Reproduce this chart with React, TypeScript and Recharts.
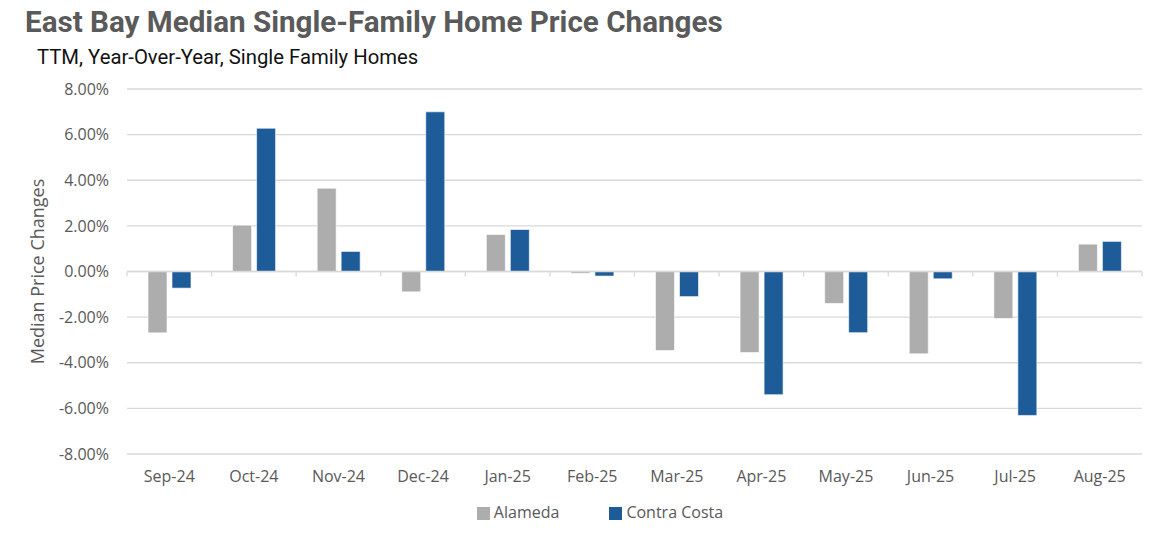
import React from "react";
import { BarChart, Bar, XAxis, YAxis, CartesianGrid, Legend, ReferenceLine } from "recharts";

const months = ["Sep-24", "Oct-24", "Nov-24", "Dec-24", "Jan-25", "Feb-25", "Mar-25", "Apr-25", "May-25", "Jun-25", "Jul-25", "Aug-25"];
const alameda = [-2.69, 2.03, 3.65, -0.89, 1.62, -0.08, -3.46, -3.55, -1.4, -3.61, -2.06, 1.2];
const contraCosta = [-0.73, 6.28, 0.88, 7.0, 1.84, -0.2, -1.1, -5.4, -2.68, -0.32, -6.31, 1.32];
const yTicks = [-8, -6, -4, -2, 0, 2, 4, 6, 8];
const boundaries = [0, 1, 2, 3, 4, 5, 6, 7, 8, 9, 10, 11, 12];

const data = months.map((m, i) => ({ month: m, Alameda: alameda[i], "Contra Costa": contraCosta[i], pos: i + 0.5 }));

const GRAY = "#ADADAD";
const BLUE = "#1E5C99";
const TEXT = "#595959";
const FONT = "'Open Sans', 'Liberation Sans', sans-serif";

export default function App() {
  return (
    <div style={{ position: "absolute", left: 0, top: 0, width: 1164, height: 540, background: "#fff", overflow: "hidden" }}>
      <div style={{ position: "absolute", left: 25, top: 5, fontFamily: "Roboto, sans-serif", fontWeight: 700, fontSize: 29.6, color: "#5a5a5a", whiteSpace: "nowrap" }}>
        East Bay Median Single-Family Home Price Changes
      </div>
      <div style={{ position: "absolute", left: 37, top: 45, fontFamily: "Roboto, sans-serif", fontSize: 20.3, color: "#111", whiteSpace: "nowrap" }}>
        TTM, Year-Over-Year, Single Family Homes
      </div>
      <div style={{ position: "absolute", left: 0, top: 0 }}>
        <BarChart
          width={1164}
          height={540}
          data={data}
          margin={{ top: 89, right: 22, bottom: 34, left: 0 }}
          barCategoryGap="24.6%"
          barGap={5}
        >
          <CartesianGrid vertical={false} stroke="#D9D9D9" strokeWidth={1.3} />
          <XAxis
            dataKey="month"
            axisLine={false}
            tickLine={false}
            tickSize={0}
            tickMargin={17}
            tick={{ fill: TEXT, fontSize: 16, fontFamily: FONT }}
            height={30}
            interval={0}
          />
          <XAxis xAxisId="num" type="number" dataKey="pos" domain={[0, 12]} hide />
          <YAxis
            domain={[-8, 8]}
            ticks={yTicks}
            width={127}
            axisLine={false}
            tickLine={false}
            tickSize={0}
            tickMargin={18}
            tickFormatter={(v: number) => v.toFixed(2) + "%"}
            tick={{ fill: TEXT, fontSize: 16, fontFamily: FONT }}
            label={{ value: "Median Price Changes", angle: -90, position: "insideLeft", offset: 38, style: { fill: TEXT, fontSize: 18, fontFamily: FONT, textAnchor: "middle" } }}
          />
          <ReferenceLine y={0} stroke="#D9D9D9" strokeWidth={1.3} />
          {boundaries.map((b) => (
            <ReferenceLine
              key={b}
              xAxisId="num"
              segment={[{ x: b, y: 0 }, { x: b, y: -0.22 }]}
              stroke="#D9D9D9"
              strokeWidth={1.3}
            />
          ))}
          <Bar dataKey="Alameda" fill={GRAY} stroke="#ffffff" strokeWidth={0.6} barSize={19} isAnimationActive={false} />
          <Bar dataKey="Contra Costa" fill={BLUE} stroke="#ffffff" strokeWidth={0.6} barSize={19} isAnimationActive={false} />
          <Legend
            verticalAlign="bottom"
            align="center"
            iconType="square"
            iconSize={13}
            wrapperStyle={{ position: "absolute", left: 43, width: 1164, bottom: 17, fontFamily: FONT, fontSize: 16 }}
            formatter={(value: string) => <span style={{ color: TEXT, marginRight: 40 }}>{value}</span>}
          />
        </BarChart>
      </div>
    </div>
  );
}
